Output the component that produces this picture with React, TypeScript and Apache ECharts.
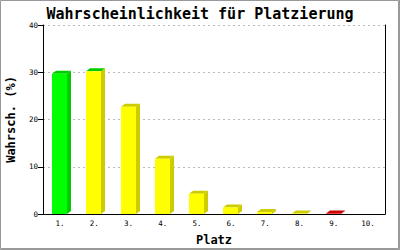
import React, { useEffect, useRef } from "react";
import * as echarts from "echarts";

const title = "Wahrscheinlichkeit für Platzierung";
const categories = ["1.", "2.", "3.", "4.", "5.", "6.", "7.", "8.", "9.", "10."];
const values = [29.7, 30.2, 22.7, 11.7, 4.3, 1.4, 0.4, 0.1, 0.1, 0];
const frontGroup = ["green", "yellow", "yellow", "yellow", "yellow", "yellow", "yellow", "yellow", "red", "yellow"];
const topGroup = ["green", "green", "yellow", "yellow", "yellow", "yellow", "yellow", "yellow", "red", "yellow"];
const yTicks = [0, 10, 20, 30, 40];

const FRONT: Record<string, string> = { green: "#00ff00", yellow: "#ffff00", red: "#ff0000" };
const DARK: Record<string, string> = { green: "#00cc00", yellow: "#cccc00", red: "#cc0000" };

export default function App() {
  const ref = useRef<HTMLDivElement>(null);
  useEffect(() => {
    if (!ref.current) return;
    const chart = echarts.init(ref.current, null, { renderer: "svg" });
    const mono = "DejaVu Sans Mono";
    chart.setOption({
      animation: false,
      backgroundColor: "#ffffff",
      title: {
        text: title,
        left: "center",
        top: 1,
        textStyle: { fontFamily: mono, fontSize: 15, fontWeight: "bold", color: "#000" },
      },
      grid: { left: 43, right: 15, top: 25, bottom: 36, containLabel: false, outerBoundsMode: "none" },
      xAxis: {
        type: "category",
        data: categories,
        name: "Platz",
        nameLocation: "middle",
        nameGap: 20,
        nameTextStyle: { fontFamily: mono, fontSize: 12, fontWeight: "bold", color: "#000" },
        axisLine: { show: true, lineStyle: { color: "#000", width: 1 } },
        axisTick: { show: false },
        axisLabel: { fontFamily: mono, fontSize: 7.5, color: "#000", margin: 5 },
      },
      yAxis: [
        {
          type: "value",
          min: 0,
          max: 40,
          interval: 10,
          name: "Wahrsch. (%)",
          nameLocation: "middle",
          nameGap: 26,
          nameTextStyle: { fontFamily: mono, fontSize: 12, fontWeight: "bold", color: "#000" },
          axisLine: { show: true, lineStyle: { color: "#000", width: 1 } },
          axisTick: { show: true, length: 5, lineStyle: { color: "#000" } },
          axisLabel: {
            fontFamily: mono,
            fontSize: 7.5,
            color: "#000",
            margin: 5,
            formatter: (v: number) => (yTicks.includes(v) ? String(v) : ""),
          },
          splitLine: { show: true, lineStyle: { color: "#bbbbbb", type: [2, 3], width: 1 } },
        },
        {
          type: "value",
          min: 0,
          max: 40,
          position: "right",
          axisLine: { show: true, lineStyle: { color: "#000", width: 1 } },
          axisTick: { show: false },
          axisLabel: { show: false },
          splitLine: { show: false },
        },
      ],
      series: [
        {
          type: "custom",
          data: values.map((v, i) => [i, v]),
          renderItem: (params: any, api: any) => {
            const idx = api.value(0);
            const val = api.value(1);
            if (!val) return { type: "group", children: [] };
            const top = api.coord([idx, val]);
            const base = api.coord([idx, 0]);
            const cx = top[0];
            const x0 = Math.round(cx - 8);
            const x1 = x0 + 15;
            const dx = 4;
            const dy = 3;
            const yT = top[1];
            const yB = base[1];
            const fg = frontGroup[params.dataIndex];
            const tg = topGroup[params.dataIndex];
            return {
              type: "group",
              children: [
                {
                  type: "polygon",
                  shape: { points: [[x1, yT], [x1 + dx, yT - dy], [x1 + dx, yB - dy], [x1, yB]] },
                  style: { fill: DARK[fg] },
                },
                {
                  type: "polygon",
                  shape: { points: [[x0, yT], [x0 + dx, yT - dy], [x1 + dx, yT - dy], [x1, yT]] },
                  style: { fill: DARK[tg] },
                },
                {
                  type: "rect",
                  shape: { x: x0, y: yT, width: x1 - x0, height: yB - yT },
                  style: { fill: FRONT[fg] },
                },
              ],
            };
          },
        },
      ],
      graphic: [
        {
          type: "rect",
          shape: { x: 0.5, y: 0.5, width: 398, height: 248 },
          style: { fill: "none", stroke: "#999999", lineWidth: 1 },
          silent: true,
        },
        {
          type: "line",
          shape: { x1: 399.5, y1: 0, x2: 399.5, y2: 250 },
          style: { stroke: "#999999", lineWidth: 1 },
          silent: true,
        },
        {
          type: "line",
          shape: { x1: 0, y1: 249.5, x2: 400, y2: 249.5 },
          style: { stroke: "#999999", lineWidth: 1 },
          silent: true,
        },
      ],
    });
    return () => chart.dispose();
  }, []);
  return (
    <div
      ref={ref}
      style={{ position: "fixed", left: 0, top: 0, width: 400, height: 250 }}
    />
  );
}
